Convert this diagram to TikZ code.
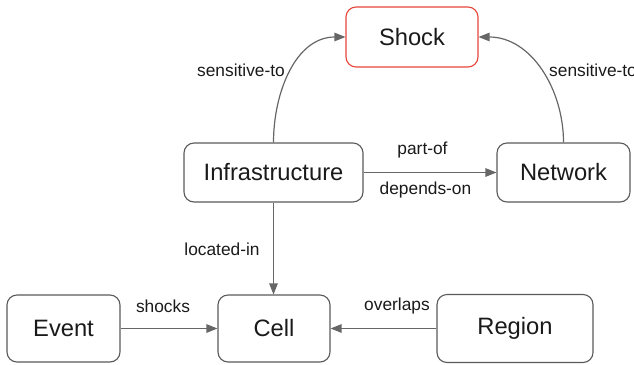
\documentclass[tikz,border=0pt]{standalone}
\usepackage{fontspec}
\setmainfont{Liberation Sans}
\usetikzlibrary{arrows.meta}
\definecolor{edgegray}{HTML}{666666}
\definecolor{boxgray}{HTML}{5A5A5A}
\definecolor{shockred}{HTML}{E8443A}
\definecolor{ink}{HTML}{1A1A1A}
\tikzset{
  entity/.style={draw=boxgray, line width=1.1bp, rounded corners=10bp, fill=white,
    inner sep=0pt, text=ink, font=\fontsize{23.8}{28}\selectfont},
  rel/.style={draw=edgegray, line width=1.2bp,
    -{Triangle[length=11bp,width=8.5bp]}, color=edgegray},
  lbl/.style={inner sep=0pt, text=ink, font=\fontsize{17.4}{20}\selectfont}
}
\begin{document}
\begin{tikzpicture}[x=1bp,y=-1bp]
  \useasboundingbox (0,0) rectangle (634,364);

  % entities
  \node[entity, draw=shockred, minimum width=132bp, minimum height=60bp] (shock) at (412,37) {Shock};
  \node[entity, minimum width=179bp, minimum height=59bp] (infra) at (273.5,172.5) {Infrastructure};
  \node[entity, minimum width=133bp, minimum height=59bp] (network) at (563.5,172.5) {Network};
  \node[entity, minimum width=113bp, minimum height=67bp] (event) at (63.5,328.5) {Event};
  \node[entity, minimum width=112bp, minimum height=67bp] (cell) at (274,328.5) {Cell};
  \node[entity, minimum width=156bp, minimum height=68bp] (region) at (515,328.5) {Region};

  % relations
  \draw[rel] (infra.north) to[out=90,in=180] (shock.west);
  \draw[rel] (network.north) to[out=90,in=0] (shock.east);
  \draw[rel] (infra.east) -- (network.west);
  \draw[rel] (infra.south) -- (infra.south |- cell.north);
  \draw[rel] (event.east) -- (cell.west);
  \draw[rel] (region.west) -- (cell.east);

  % relation labels
  \node[lbl] (l1) at (241,70) {sensitive-to};
  \node[lbl, anchor=west] (l2) at (549,70) {sensitive-to};
  \node[lbl] (l3) at (422.5,150) {part-of};
  \node[lbl] (l4) at (425.5,190) {depends-on};
  \node[lbl] (l5) at (222,249) {located-in};
  \node[lbl] (l6) at (163,306) {shocks};
  \node[lbl] (l7) at (397,306) {overlaps};
\end{tikzpicture}
\end{document}
